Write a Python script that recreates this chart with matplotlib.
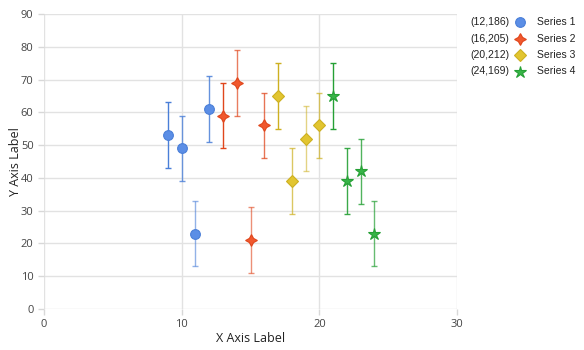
import numpy as np
import matplotlib.pyplot as plt
from matplotlib.lines import Line2D

# data
series_names = ["Series 1", "Series 2", "Series 3", "Series 4"]
legend_tags = ["(12,186)", "(16,205)", "(20,212)", "(24,169)"]
x_vals = [[9, 10, 11, 12], [13, 14, 15, 16], [17, 18, 19, 20], [21, 22, 23, 24]]
y_vals = [[53, 49, 23, 61], [59, 69, 21, 56], [65, 39, 52, 56], [65, 39, 42, 23]]
y_err = [[10, 10, 10, 10], [10, 10, 10, 10], [10, 10, 10, 10], [10, 10, 10, 10]]

colors = ["#5b8ee6", "#f0582e", "#e2c530", "#37b447"]
edge_colors = ["#4a7fd8", "#e0461c", "#cdb020", "#25a035"]
markers = ["o", (4, 1, 0), "D", "*"]
marker_sizes = [7, 8.5, 6, 9]
# error bar shade per point (the reference varies them)
bar_alpha = [[1.0, 0.8, 0.6, 0.85], [1.0, 0.7, 0.6, 0.75], [1.0, 0.7, 0.55, 0.7], [1.0, 0.9, 0.8, 0.7]]

plt.rcParams["font.family"] = ["Open Sans", "DejaVu Sans"]

fig = plt.figure(figsize=(5.84, 3.5), dpi=100)
ax = fig.add_axes([44 / 584, 1 - 309 / 350, (457 - 44) / 584, (309 - 14) / 350])

for i in range(len(series_names)):
    for j in range(len(x_vals[i])):
        ax.errorbar(x_vals[i][j], y_vals[i][j], yerr=y_err[i][j], fmt="none",
                    ecolor=edge_colors[i], alpha=bar_alpha[i][j], elinewidth=1,
                    capsize=2.5, capthick=1, zorder=2)
    ax.plot(x_vals[i], y_vals[i], linestyle="none", marker=markers[i],
            markersize=marker_sizes[i], markerfacecolor=colors[i],
            markeredgecolor=edge_colors[i], markeredgewidth=0.8, zorder=3)

ax.set_xlim(0, 30)
ax.set_ylim(0, 90)
ax.set_xticks([0, 10, 20, 30])
ax.set_yticks(np.arange(0, 91, 10))
ax.grid(True, color="#e2e2e2", linewidth=1)
ax.set_axisbelow(True)
for s in ax.spines.values():
    s.set_visible(False)
ax.tick_params(colors="#d8d8d8", labelcolor="#444444", labelsize=8, length=4, width=1)
ax.set_xlabel("X Axis Label", fontsize=9, color="#222222", labelpad=1)
ax.set_ylabel("Y Axis Label", fontsize=9, color="#222222", labelpad=-0.5)

# legend drawn by hand: tag, marker, series name
row_y = [22, 38.5, 55, 71.5]
for i in range(len(series_names)):
    yy = 1 - row_y[i] / 350
    fig.text(470 / 584, yy, legend_tags[i], fontsize=7.5, family="Liberation Sans",
             color="#222222", va="center", ha="left")
    fig.add_artist(Line2D([520 / 584], [yy], transform=fig.transFigure, linestyle="none",
                          marker=markers[i], markersize=marker_sizes[i],
                          markerfacecolor=colors[i], markeredgecolor=edge_colors[i],
                          markeredgewidth=0.8))
    fig.text(537 / 584, yy, series_names[i], fontsize=7.5, family="Liberation Sans",
             color="#222222", va="center", ha="left")

fig.savefig("out.png", dpi=100)
